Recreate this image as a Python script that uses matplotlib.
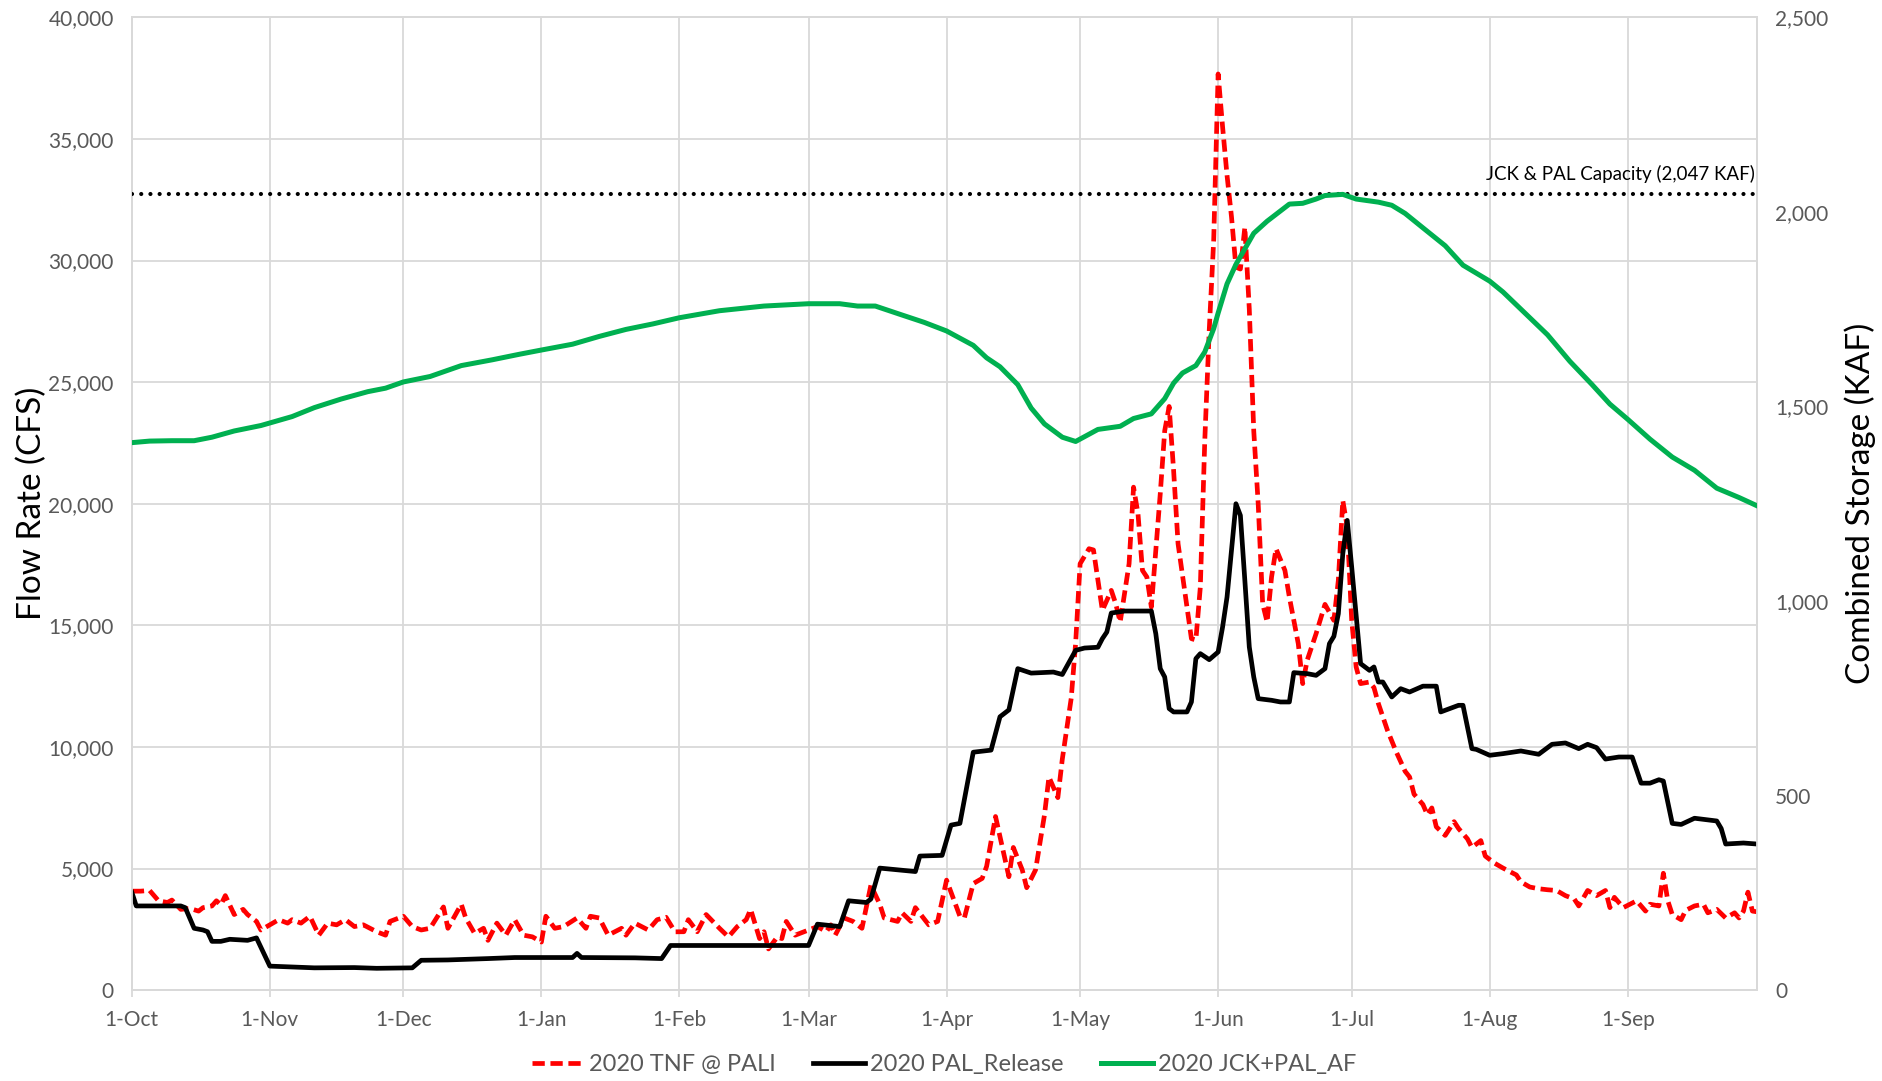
# -*- coding: utf-8 -*-

#---------------------------------------------------------------------
# Libraries
#---------------------------------------------------------------------
import pandas as pd
import numpy as np
import matplotlib as mpl
mpl.use('Agg')
import matplotlib.pyplot as plt
import matplotlib.dates as mdates
from matplotlib.ticker import FuncFormatter, MultipleLocator

#---------------------------------------------------------------------
# Data
#---------------------------------------------------------------------

# 2020 TNF @ PALI (cfs)
tnf_dates = [
    '2019-10-01', '2019-10-03', '2019-10-05', '2019-10-07', '2019-10-09', '2019-10-10', '2019-10-12',
    '2019-10-14', '2019-10-16', '2019-10-17', '2019-10-19', '2019-10-20', '2019-10-21', '2019-10-22',
    '2019-10-24', '2019-10-26', '2019-10-27', '2019-10-29', '2019-10-30', '2019-11-01', '2019-11-03',
    '2019-11-05', '2019-11-06', '2019-11-08', '2019-11-10', '2019-11-12', '2019-11-14', '2019-11-16',
    '2019-11-18', '2019-11-20', '2019-11-22', '2019-11-25', '2019-11-27', '2019-11-28', '2019-12-01',
    '2019-12-03', '2019-12-05', '2019-12-07', '2019-12-10', '2019-12-11', '2019-12-14', '2019-12-15',
    '2019-12-17', '2019-12-19', '2019-12-20', '2019-12-22', '2019-12-24', '2019-12-26', '2019-12-28',
    '2019-12-30', '2020-01-01', '2020-01-02', '2020-01-04', '2020-01-06', '2020-01-09', '2020-01-11',
    '2020-01-12', '2020-01-14', '2020-01-16', '2020-01-19', '2020-01-20', '2020-01-22', '2020-01-25',
    '2020-01-27', '2020-01-29', '2020-01-31', '2020-02-02', '2020-02-03', '2020-02-05', '2020-02-07',
    '2020-02-10', '2020-02-12', '2020-02-14', '2020-02-16', '2020-02-17', '2020-02-19', '2020-02-20',
    '2020-02-21', '2020-02-23', '2020-02-24', '2020-02-25', '2020-02-27', '2020-03-01', '2020-03-03',
    '2020-03-05', '2020-03-06', '2020-03-07', '2020-03-09', '2020-03-11', '2020-03-13', '2020-03-15',
    '2020-03-17', '2020-03-18', '2020-03-21', '2020-03-22', '2020-03-24', '2020-03-25', '2020-03-28',
    '2020-03-30', '2020-04-01', '2020-04-04', '2020-04-05', '2020-04-07', '2020-04-09', '2020-04-10',
    '2020-04-12', '2020-04-15', '2020-04-16', '2020-04-18', '2020-04-19', '2020-04-21', '2020-04-23',
    '2020-04-24', '2020-04-26', '2020-04-27', '2020-04-29', '2020-04-30', '2020-05-01', '2020-05-03',
    '2020-05-04', '2020-05-05', '2020-05-06', '2020-05-08', '2020-05-09', '2020-05-10', '2020-05-12',
    '2020-05-13', '2020-05-14', '2020-05-15', '2020-05-16', '2020-05-17', '2020-05-19', '2020-05-20',
    '2020-05-21', '2020-05-22', '2020-05-23', '2020-05-25', '2020-05-26', '2020-05-27', '2020-05-28',
    '2020-05-29', '2020-05-30', '2020-05-31', '2020-06-01', '2020-06-02', '2020-06-03', '2020-06-04',
    '2020-06-05', '2020-06-06', '2020-06-07', '2020-06-08', '2020-06-09', '2020-06-10', '2020-06-11',
    '2020-06-12', '2020-06-13', '2020-06-14', '2020-06-16', '2020-06-17', '2020-06-19', '2020-06-20',
    '2020-06-21', '2020-06-23', '2020-06-25', '2020-06-27', '2020-06-28', '2020-06-29', '2020-06-30',
    '2020-07-01', '2020-07-02', '2020-07-03', '2020-07-05', '2020-07-06', '2020-07-07', '2020-07-09',
    '2020-07-11', '2020-07-13', '2020-07-14', '2020-07-15', '2020-07-17', '2020-07-18', '2020-07-19',
    '2020-07-20', '2020-07-22', '2020-07-24', '2020-07-25', '2020-07-27', '2020-07-28', '2020-07-30',
    '2020-07-31', '2020-08-02', '2020-08-04', '2020-08-07', '2020-08-08', '2020-08-10', '2020-08-12',
    '2020-08-14', '2020-08-16', '2020-08-18', '2020-08-20', '2020-08-21', '2020-08-23', '2020-08-25',
    '2020-08-27', '2020-08-28', '2020-08-29', '2020-08-31', '2020-09-03', '2020-09-05', '2020-09-06',
    '2020-09-08', '2020-09-09', '2020-09-10', '2020-09-11', '2020-09-13', '2020-09-14', '2020-09-16',
    '2020-09-18', '2020-09-19', '2020-09-21', '2020-09-23', '2020-09-25', '2020-09-26', '2020-09-27',
    '2020-09-28', '2020-09-29', '2020-09-30']
tnf_cfs = [
    4072, 4072, 4100, 3676, 3606, 3705, 3323,
    3365, 3252, 3394, 3464, 3676, 3507, 3889,
    3111, 3323, 3111, 2828, 2475, 2687, 2899,
    2757, 2899, 2757, 3040, 2262, 2757, 2687,
    2899, 2616, 2687, 2404, 2262, 2828, 3040,
    2616, 2475, 2545, 3422, 2545, 3535, 2969,
    2333, 2545, 2050, 2757, 2262, 2899, 2262,
    2192, 1980, 3040, 2545, 2616, 2969, 2545,
    3040, 2969, 2262, 2545, 2262, 2757, 2475,
    2899, 2998, 2400, 2404, 2899, 2404, 3111,
    2545, 2192, 2616, 2899, 3323, 2121, 2404,
    1697, 2192, 2121, 2828, 2262, 2475, 2616,
    2404, 2687, 2262, 2969, 2828, 2545, 4313,
    3535, 2969, 2828, 3182, 2828, 3394, 2687,
    2828, 4525, 3040, 2969, 4384, 4596, 5091,
    7141, 4666, 5868, 4949, 4214, 4949, 7211,
    8767, 7918, 9500, 12000, 14282, 17535, 18151,
    18100, 16850, 15616, 16438, 15890, 15136, 17535,
    20682, 19589, 17260, 16985, 15752, 20411, 23000,
    24000, 21368, 18357, 15752, 14453, 14400, 16574,
    22600, 27124, 30822, 37670, 35500, 33500, 31800,
    29725, 29650, 31368, 28000, 23000, 20000, 15890,
    15136, 16985, 18151, 17260, 16164, 14248, 12605,
    13562, 14658, 15863, 15205, 16850, 20137, 19040,
    15205, 13288, 12605, 12671, 12443, 11780, 10700,
    9800, 9000, 8767, 8060, 7636, 7211, 7494,
    6717, 6363, 6929, 6646, 6222, 5868, 6151,
    5515, 5232, 5020, 4737, 4454, 4242, 4171,
    4129, 4100, 3889, 3747, 3464, 4100, 3889,
    4100, 3394, 3818, 3394, 3676, 3252, 3535,
    3464, 4808, 3676, 3111, 2899, 3280, 3464,
    3535, 3182, 3323, 2969, 3182, 2969, 3252,
    4030, 3252, 3224]

# 2020 PAL_Release (cfs)
pal_dates = [
    '2019-10-01', '2019-10-02', '2019-10-12', '2019-10-13', '2019-10-15', '2019-10-17', '2019-10-18',
    '2019-10-19', '2019-10-21', '2019-10-23', '2019-10-27', '2019-10-29', '2019-11-01', '2019-11-07',
    '2019-11-11', '2019-11-20', '2019-11-25', '2019-12-03', '2019-12-05', '2019-12-11', '2019-12-20',
    '2019-12-26', '2020-01-08', '2020-01-09', '2020-01-10', '2020-01-22', '2020-01-28', '2020-01-30',
    '2020-02-15', '2020-03-01', '2020-03-03', '2020-03-08', '2020-03-10', '2020-03-14', '2020-03-15',
    '2020-03-17', '2020-03-25', '2020-03-26', '2020-03-31', '2020-04-02', '2020-04-04', '2020-04-07',
    '2020-04-11', '2020-04-13', '2020-04-15', '2020-04-17', '2020-04-20', '2020-04-25', '2020-04-27',
    '2020-04-30', '2020-05-02', '2020-05-05', '2020-05-06', '2020-05-07', '2020-05-08', '2020-05-11',
    '2020-05-17', '2020-05-18', '2020-05-19', '2020-05-20', '2020-05-21', '2020-05-22', '2020-05-25',
    '2020-05-26', '2020-05-27', '2020-05-28', '2020-05-30', '2020-06-01', '2020-06-02', '2020-06-03',
    '2020-06-04', '2020-06-05', '2020-06-06', '2020-06-07', '2020-06-08', '2020-06-09', '2020-06-10',
    '2020-06-13', '2020-06-15', '2020-06-17', '2020-06-18', '2020-06-21', '2020-06-23', '2020-06-25',
    '2020-06-26', '2020-06-27', '2020-06-28', '2020-06-29', '2020-06-30', '2020-07-01', '2020-07-03',
    '2020-07-05', '2020-07-06', '2020-07-07', '2020-07-08', '2020-07-10', '2020-07-12', '2020-07-14',
    '2020-07-17', '2020-07-20', '2020-07-21', '2020-07-23', '2020-07-25', '2020-07-26', '2020-07-28',
    '2020-07-29', '2020-08-01', '2020-08-04', '2020-08-08', '2020-08-12', '2020-08-15', '2020-08-18',
    '2020-08-21', '2020-08-23', '2020-08-25', '2020-08-27', '2020-08-30', '2020-09-02', '2020-09-04',
    '2020-09-06', '2020-09-08', '2020-09-09', '2020-09-11', '2020-09-13', '2020-09-16', '2020-09-21',
    '2020-09-22', '2020-09-23', '2020-09-27', '2020-09-30']
pal_cfs = [
    4030, 3464, 3464, 3394, 2545, 2475, 2404,
    2008, 2008, 2093, 2050, 2150, 990, 947,
    919, 930, 900, 919, 1230, 1244, 1300,
    1343, 1343, 1513, 1343, 1330, 1300, 1838,
    1838, 1838, 2715, 2616, 3676, 3606, 3747,
    5020, 4878, 5515, 5543, 6787, 6858, 9785,
    9870, 11242, 11524, 13221, 13037, 13080, 12980,
    13973, 14068, 14100, 14454, 14726, 15507, 15589,
    15589, 14658, 13220, 12877, 11577, 11440, 11440,
    11850, 13631, 13837, 13590, 13905, 14932, 16164,
    18082, 20000, 19520, 16850, 14110, 12877, 11987,
    11919, 11850, 11850, 13056, 13015, 12945, 13220,
    14248, 14549, 15479, 17946, 19315, 17398, 13426,
    13150, 13289, 12671, 12671, 12055, 12397, 12260,
    12500, 12500, 11440, 11577, 11713, 11713, 9932,
    9900, 9658, 9726, 9836, 9700, 10110, 10165,
    9932, 10110, 9973, 9502, 9587, 9587, 8512,
    8512, 8653, 8600, 6858, 6815, 7070, 6957,
    6646, 6010, 6052, 6010]

# 2020 JCK+PAL_AF (KAF, secondary axis)
af_dates = [
    '2019-10-01', '2019-10-05', '2019-10-10', '2019-10-15', '2019-10-19', '2019-10-24', '2019-10-30',
    '2019-11-06', '2019-11-11', '2019-11-17', '2019-11-23', '2019-11-27', '2019-12-01', '2019-12-07',
    '2019-12-14', '2019-12-21', '2019-12-27', '2020-01-01', '2020-01-08', '2020-01-14', '2020-01-20',
    '2020-01-26', '2020-02-01', '2020-02-10', '2020-02-20', '2020-03-01', '2020-03-08', '2020-03-12',
    '2020-03-16', '2020-03-22', '2020-03-27', '2020-04-01', '2020-04-07', '2020-04-10', '2020-04-13',
    '2020-04-17', '2020-04-20', '2020-04-23', '2020-04-27', '2020-04-30', '2020-05-05', '2020-05-10',
    '2020-05-13', '2020-05-17', '2020-05-20', '2020-05-22', '2020-05-24', '2020-05-27', '2020-05-29',
    '2020-05-31', '2020-06-01', '2020-06-03', '2020-06-05', '2020-06-07', '2020-06-09', '2020-06-12',
    '2020-06-17', '2020-06-20', '2020-06-23', '2020-06-25', '2020-06-29', '2020-07-02', '2020-07-07',
    '2020-07-10', '2020-07-13', '2020-07-17', '2020-07-22', '2020-07-26', '2020-08-01', '2020-08-04',
    '2020-08-09', '2020-08-14', '2020-08-19', '2020-08-24', '2020-08-28', '2020-09-01', '2020-09-06',
    '2020-09-11', '2020-09-16', '2020-09-21', '2020-09-26', '2020-09-30']
af_kaf = [
    1407, 1411, 1412, 1412, 1421, 1437, 1451,
    1474, 1497, 1519, 1538, 1547, 1563, 1577,
    1605, 1620, 1634, 1645, 1660, 1680, 1698,
    1712, 1728, 1746, 1758, 1764, 1764, 1758,
    1758, 1735, 1716, 1694, 1657, 1625, 1602,
    1556, 1496, 1455, 1421, 1410, 1441, 1449,
    1469, 1481, 1520, 1560, 1586, 1605, 1640,
    1700, 1740, 1815, 1865, 1905, 1945, 1976,
    2020, 2022, 2033, 2042, 2045, 2033, 2025,
    2017, 1996, 1959, 1913, 1863, 1822, 1794,
    1739, 1684, 1616, 1556, 1506, 1467, 1416,
    1370, 1336, 1290, 1266, 1245]

capacity_kaf = 2047
capacity_label = 'JCK & PAL Capacity (2,047 KAF)'

#---------------------------------------------------------------------
# Style
#---------------------------------------------------------------------
plt.rcParams['font.family'] = ['Lato', 'DejaVu Sans']
grid_c = '#D9D9D9'
text_c = '#595959'

fig = plt.figure(figsize=(18.83, 10.81), dpi=100)
ax = fig.add_axes([0.070, 0.084, 0.863, 0.900])
ax2 = ax.twinx()

t_tnf = pd.to_datetime(tnf_dates)
t_pal = pd.to_datetime(pal_dates)
t_af = pd.to_datetime(af_dates)

# lines
l1, = ax.plot(t_tnf, tnf_cfs, color='#FF0000', lw=3.4, dashes=(2.6, 1.2),
              dash_capstyle='butt', label='2020 TNF @ PALI', zorder=3)
l2, = ax.plot(t_pal, pal_cfs, color='black', lw=3.4, solid_joinstyle='round',
              label='2020 PAL_Release', zorder=4)
l3, = ax2.plot(t_af, af_kaf, color='#00B050', lw=3.6, solid_joinstyle='round',
               label='2020 JCK+PAL_AF', zorder=4)

x0 = pd.Timestamp('2019-10-01')
x1 = pd.Timestamp('2020-09-30')
ax2.plot([x0, x1], [capacity_kaf, capacity_kaf], color='black', lw=3.0,
         linestyle=(0, (0.01, 2.2)), dash_capstyle='round', zorder=3)
ax2.text(x1 - pd.Timedelta(days=0.5), capacity_kaf + 26, capacity_label,
         ha='right', va='bottom', fontsize=13.5, color='black')

# axes limits and ticks
ax.set_xlim(x0, x1)
ax.set_ylim(0, 40000)
ax2.set_ylim(0, 2500)
ax.yaxis.set_major_locator(MultipleLocator(5000))
ax2.yaxis.set_major_locator(MultipleLocator(500))
ax.yaxis.set_major_formatter(FuncFormatter(lambda v, p: f'{int(v):,}'))
ax2.yaxis.set_major_formatter(FuncFormatter(lambda v, p: f'{int(v):,}'))

ax.xaxis.set_major_locator(mdates.MonthLocator(bymonthday=1))
ax.xaxis.set_major_formatter(FuncFormatter(
    lambda v, p: f'{mdates.num2date(v).day}-{mdates.num2date(v).strftime("%b")}'))

ax.grid(True, color=grid_c, lw=1.3)
ax.set_axisbelow(True)
for a in (ax, ax2):
    for s in a.spines.values():
        s.set_color(grid_c)
        s.set_linewidth(1.3)

ax.tick_params(axis='x', colors=grid_c, length=5, width=1.3, pad=9,
               labelcolor=text_c, labelsize=15)
ax.tick_params(axis='y', length=0, pad=13, labelcolor=text_c, labelsize=15)
ax2.tick_params(axis='y', length=0, pad=13, labelcolor=text_c, labelsize=15)

ax.set_ylabel('Flow Rate (CFS)', fontsize=24, color='black', labelpad=1)
ax2.set_ylabel('Combined Storage (KAF)', fontsize=24, color='black', labelpad=12)

# legend under the plot
fig.legend(handles=[l1, l2, l3], loc='center', bbox_to_anchor=(0.5015, 0.015),
           ncol=3, frameon=False, fontsize=17, labelcolor=text_c,
           handlelength=2.2, handletextpad=0.2, columnspacing=1.6)

fig.savefig('out.png', dpi=100)
